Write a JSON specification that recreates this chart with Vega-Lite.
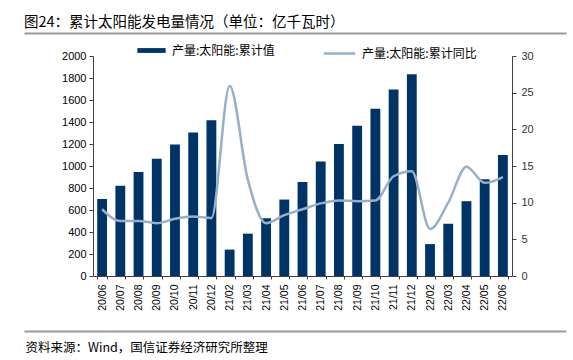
{
  "$schema": "https://vega.github.io/schema/vega-lite/v6.json",
  "autosize": {"type": "none"},
  "width": 419,
  "height": 220,
  "padding": {"left": 93, "top": 56, "right": 61, "bottom": 84},
  "background": "white",
  "config": {
    "view": {"stroke": null},
    "font": "Liberation Sans",
    "axis": {"grid": false, "domainColor": "#404040", "tickColor": "#404040", "labelColor": "#000000", "labelFont": "Liberation Sans", "labelFontSize": 11}
  },
  "title": {
    "text": "图24：累计太阳能发电量情况（单位：亿千瓦时）",
    "anchor": "start",
    "frame": "group",
    "font": "Noto Sans CJK SC",
    "fontSize": 14.5,
    "fontWeight": "normal",
    "color": "#000000",
    "dx": -69,
    "offset": 3
  },
  "layer": [
    {
      "data": {
        "values": [
          {"month": "20/06", "val": 700, "yoy": 9.1},
          {"month": "20/07", "val": 820, "yoy": 7.5},
          {"month": "20/08", "val": 945, "yoy": 7.5},
          {"month": "20/09", "val": 1065, "yoy": 7.2},
          {"month": "20/10", "val": 1195, "yoy": 7.8},
          {"month": "20/11", "val": 1305, "yoy": 8.1},
          {"month": "20/12", "val": 1415, "yoy": 7.9},
          {"month": "21/01", "val": null, "yoy": null},
          {"month": "21/02", "val": 240, "yoy": 25.9},
          {"month": "21/03", "val": 385, "yoy": 13.1},
          {"month": "21/04", "val": 525, "yoy": 7.2},
          {"month": "21/05", "val": 695, "yoy": 8.3},
          {"month": "21/06", "val": 855, "yoy": 9.1},
          {"month": "21/07", "val": 1040, "yoy": 9.9},
          {"month": "21/08", "val": 1200, "yoy": 10.3},
          {"month": "21/09", "val": 1365, "yoy": 10.2},
          {"month": "21/10", "val": 1520, "yoy": 10.3},
          {"month": "21/11", "val": 1695, "yoy": 13.6},
          {"month": "21/12", "val": 1835, "yoy": 14.3},
          {"month": "22/01", "val": null, "yoy": null},
          {"month": "22/02", "val": 290, "yoy": 6.4},
          {"month": "22/03", "val": 475, "yoy": 10.0},
          {"month": "22/04", "val": 680, "yoy": 14.9},
          {"month": "22/05", "val": 880, "yoy": 12.7},
          {"month": "22/06", "val": 1100, "yoy": 13.5}
        ]
      },
      "encoding": {
        "x": {
          "field": "month",
          "type": "ordinal",
          "scale": {"paddingInner": 0.46, "paddingOuter": 0.23},
          "axis": {
            "orient": "bottom",
            "labelAngle": -90,
            "labelFontSize": 10.5,
            "labelFont": "Liberation Sans",
            "labelPadding": 5,
            "tickBand": "extent",
            "tickSize": 3,
            "title": "资料来源：Wind，国信证券经济研究所整理",
            "titleFont": "Noto Sans CJK SC",
            "titleFontSize": 12.5,
            "titleFontWeight": "normal",
            "titleColor": "#000000",
            "titleAnchor": "start",
            "titleAlign": "left",
            "titleBaseline": "alphabetic",
            "titleX": -68,
            "titleY": 75
          }
        }
      },
      "layer": [
        {
          "mark": {"type": "bar"},
          "encoding": {
            "y": {
              "field": "val",
              "type": "quantitative",
              "scale": {"domain": [0, 2000]},
              "axis": {"title": null, "format": "d", "values": [0, 200, 400, 600, 800, 1000, 1200, 1400, 1600, 1800, 2000], "tickSize": 4, "labelPadding": 3}
            },
            "color": {
              "datum": "产量:太阳能:累计值",
              "type": "nominal",
              "scale": {"range": ["#003366"]},
              "legend": {
                "title": null,
                "orient": "none",
                "legendX": 44,
                "legendY": -20,
                "symbolType": "M-1,-0.17H1V0.17H-1Z",
                "symbolSize": 800,
                "symbolStrokeWidth": 0,
                "labelFont": "Noto Sans CJK SC",
                "labelFontSize": 12,
                "labelColor": "#000000",
                "labelOffset": 6
              }
            }
          }
        },
        {
          "transform": [{"filter": "datum.yoy != null"}],
          "mark": {"type": "line", "interpolate": "monotone", "strokeWidth": 2.5},
          "encoding": {
            "y": {
              "field": "yoy",
              "type": "quantitative",
              "scale": {"domain": [0, 30]},
              "axis": {"title": null, "orient": "right", "values": [0, 5, 10, 15, 20, 25, 30], "tickSize": 4, "labelPadding": 5, "labelColor": "#333333"}
            },
            "stroke": {
              "datum": "产量:太阳能:累计同比",
              "type": "nominal",
              "scale": {"range": ["#97AFC8"]},
              "legend": {
                "title": null,
                "orient": "none",
                "legendX": 229,
                "legendY": -20,
                "symbolType": "stroke",
                "symbolSize": 1000,
                "symbolStrokeWidth": 2.5,
                "labelFont": "Noto Sans CJK SC",
                "labelFontSize": 12,
                "labelColor": "#000000",
                "labelOffset": 5
              }
            }
          }
        }
      ],
      "resolve": {"scale": {"y": "independent", "color": "independent"}}
    },
    {
      "data": {"values": [{"d": 0}, {"d": 1}]},
      "mark": {"type": "point", "opacity": 0},
      "encoding": {
        "x": {
          "field": "d",
          "type": "quantitative",
          "scale": {"range": [-69, 473]},
          "axis": {"orient": "top", "offset": 23, "labels": false, "ticks": false, "domain": true, "domainColor": "#9a9a9a", "domainWidth": 2, "title": null, "grid": false}
        }
      }
    },
    {
      "data": {"values": [{"e": 0}, {"e": 1}]},
      "mark": {"type": "point", "opacity": 0},
      "encoding": {
        "x": {
          "field": "e",
          "type": "quantitative",
          "scale": {"range": [-69, 473]},
          "axis": {"orient": "bottom", "offset": 55, "labels": false, "ticks": false, "domain": true, "domainColor": "#9a9a9a", "domainWidth": 2, "title": null, "grid": false}
        }
      }
    }
  ],
  "resolve": {"scale": {"x": "independent", "y": "independent"}, "axis": {"x": "independent"}}
}
